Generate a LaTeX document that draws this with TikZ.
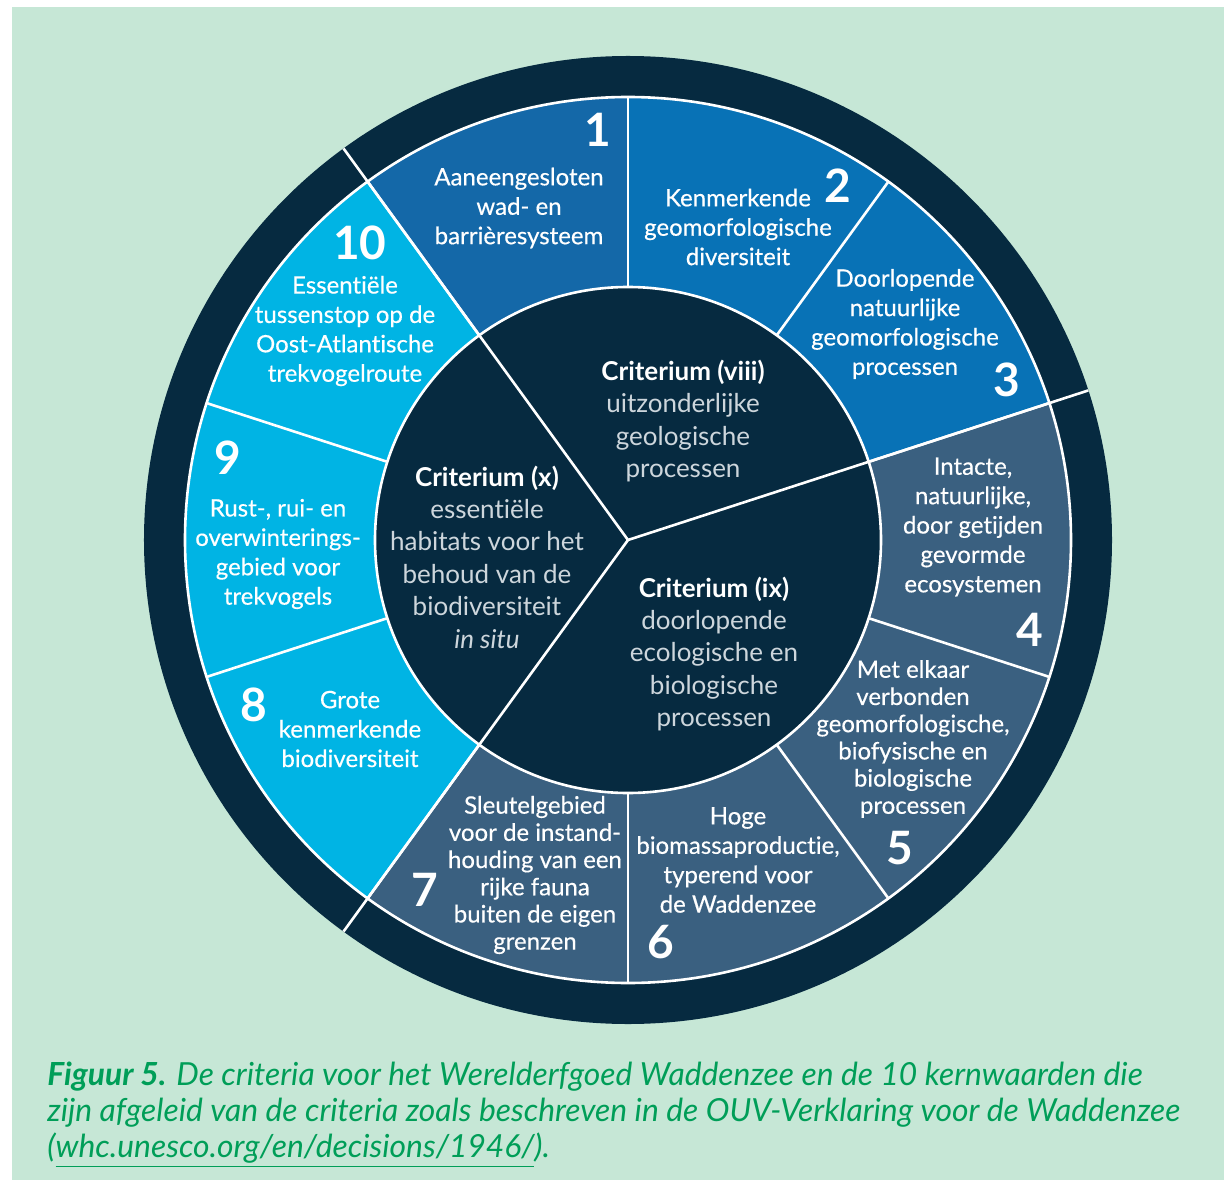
\documentclass[tikz,border=0pt]{standalone}
\usepackage{fontspec}
\setmainfont{Lato}[Ligatures=NoCommon]
\newfontfamily\segfont[FakeBold=0.4, Ligatures=NoCommon]{Lato}

\definecolor{mint}{RGB}{198,231,214}
\definecolor{navy}{RGB}{6,42,64}
\definecolor{blueA}{RGB}{20,104,168}
\definecolor{blueB}{RGB}{8,114,182}
\definecolor{slate}{RGB}{58,96,128}
\definecolor{cyanC}{RGB}{0,180,228}
\definecolor{critgray}{RGB}{205,214,220}
\definecolor{capgreen}{RGB}{0,158,88}

\begin{document}
\begin{tikzpicture}[
    x=0.5pt, y=0.5pt,
    seg/.style={text=white, align=center, inner sep=0pt, font=\segfont\fontsize{12}{14.7}\selectfont},
    segtight/.style={seg, font=\segfont\fontsize{12}{13.6}\selectfont},
    num/.style={text=white, inner sep=0pt, font=\bfseries\fontsize{23}{23}\selectfont},
    crit/.style={text=critgray, align=center, inner sep=0pt, font=\fontsize{13}{16.2}\selectfont},
    divider/.style={white, line width=1.3pt},
    ]

\useasboundingbox (-628,540) rectangle (596,-643);
\fill[white] (-628,540) rectangle (596,-643);
\fill[mint] (-616,533) rectangle (596,-640);

% wheel
\fill[navy] (0,0) circle[radius=484];
\foreach \k/\col in {1/blueA,2/blueB,3/blueB,4/slate,5/slate,6/slate,7/slate,8/cyanC,9/cyanC,10/cyanC}{
    \pgfmathsetmacro\a{126-36*\k}
    \fill[\col] (\a:443) arc[start angle=\a, end angle=\a+36, radius=443]
        -- (\a+36:253) arc[start angle=\a+36, end angle=\a, radius=253] -- cycle;
}
\fill[navy] (0,0) circle[radius=253];
\draw[divider] (0,0) circle[radius=443];
\draw[divider] (0,0) circle[radius=253];
\foreach \a in {18,54,...,342}
    \draw[divider] (\a:253) -- (\a:443);
\foreach \a in {18,126,234}
    \draw[divider] (0,0) -- (\a:484);

% kernwaarden
\node[seg] at (-109,332) (s1) {Aaneengesloten\\wad- en\\barrièresysteem};
\node[num] at (-30,410) (n1) {1};
\node[seg] at (110,313) (s2) {Kenmerkende\\geomorfologische\\diversiteit};
\node[num] at (210,354) (n2) {2};
\node[seg] at (277,216) (s3) {Doorlopende\\natuurlijke\\geomorfologische\\processen};
\node[num] at (379,160) (n3) {3};
\node[seg] at (345,13) (s4) {Intacte,\\natuurlijke,\\door getijden\\gevormde\\ecosystemen};
\node[num] at (402,-90) (n4) {4};
\node[segtight] at (285,-199) (s5) {Met elkaar\\verbonden\\geomorfologische,\\biofysische en\\biologische\\processen};
\node[num] at (272,-308) (n5) {5};
\node[seg] at (110,-320) (s6) {Hoge\\biomassaproductie,\\typerend voor\\de Waddenzee};
\node[num] at (33,-402) (n6) {6};
\node[segtight] at (-93,-335) (s7) {Sleutelgebied\\voor de instand-\\houding van een\\rijke fauna\\buiten de eigen\\grenzen};
\node[num] at (-203,-350) (n7) {7};
\node[seg] at (-278,-189) (s8) {Grote\\kenmerkende\\biodiversiteit};
\node[num] at (-374,-165) (n8) {8};
\node[seg] at (-350,-14) (s9) {Rust-, rui- en\\overwinterings-\\gebied voor\\trekvogels};
\node[num] at (-400,82) (n9) {9};
\node[seg] at (-283,209) (s10) {Essentiële\\tussenstop op de\\Oost-Atlantische\\trekvogelroute};
\node[num] at (-268,297) (n10) {10};

% criteria
\node[crit] at (55,119) (critviii) {\textcolor{white}{\bfseries Criterium (viii)}\\uitzonderlijke\\geologische\\processen};
\node[crit] at (-141,-17) (critx) {\textcolor{white}{\bfseries Criterium (x)}\\essentiële\\habitats voor het\\behoud van de\\biodiversiteit\\\textit{in situ}};
\node[crit] at (86,-114) (critix) {\textcolor{white}{\bfseries Criterium (ix)}\\doorlopende\\ecologische en\\biologische\\processen};

% bijschrift
\node[anchor=north west, inner sep=0pt, align=left, text=capgreen,
    font=\itshape\fontsize{15.9}{18}\selectfont] at (-581,-522) (caption)
    {\textbf{Figuur 5.} De criteria voor het Werelderfgoed Waddenzee en de 10 kernwaarden die\\
    zijn afgeleid van de criteria zoals beschreven in de OUV-Verklaring voor de Waddenzee\\
    (\underline{whc.unesco.org/en/decisions/1946/}).};

\end{tikzpicture}
\end{document}
